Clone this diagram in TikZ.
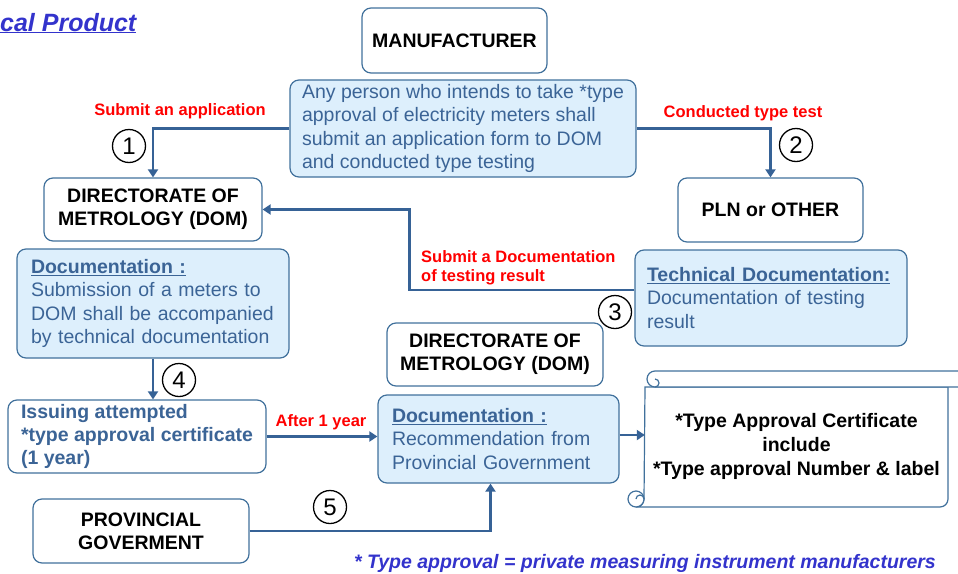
\documentclass[tikz,border=0pt]{standalone}
\usepackage{fontspec}
\setmainfont{Liberation Sans}
\usetikzlibrary{arrows.meta}
\definecolor{boxline}{RGB}{65,113,156}
\definecolor{flowblue}{RGB}{54,98,150}
\definecolor{docfill}{RGB}{221,239,252}
\definecolor{doctext}{RGB}{59,100,150}
\definecolor{titleblue}{RGB}{51,51,204}
\begin{document}
\begin{tikzpicture}[x=1pt, y=-1pt,
  whitebox/.style={draw=boxline, line width=1.2pt, fill=white, rounded corners=9pt, align=center, font=\fontsize{19.5}{23}\selectfont\bfseries},
  docbox/.style={draw=boxline, line width=1.2pt, fill=docfill, rounded corners=9pt, align=left, inner xsep=14pt, inner ysep=2pt, text=doctext, font=\fontsize{19.5}{23.5}\selectfont},
  flow/.style={draw=flowblue, line width=2.6pt, -{Triangle[length=8pt,width=10pt]}},
  redlabel/.style={text=red, font=\fontsize{16.5}{19.5}\selectfont\bfseries, inner sep=0pt},
  stepnum/.style={draw, circle, line width=1.3pt, minimum size=33pt, inner sep=0pt, font=\fontsize{24}{24}\selectfont},
  scrollline/.style={draw=boxline, line width=1.2pt}]
\useasboundingbox (0,0) rectangle (958,573);

\node[font=\fontsize{25}{25}\selectfont\bfseries\itshape, text=titleblue, anchor=base west, inner sep=0pt] (title) at (0,31) {\underline{cal Product}};

\node[whitebox, minimum width=185pt, minimum height=65pt] (mfr) at (454.5,40.5) {MANUFACTURER};
\node[docbox, inner xsep=4pt, minimum width=346pt, minimum height=97pt] (desc) at (463,128.5) {Any person who intends to take *type\\approval of electricity meters shall\\submit an application form to DOM\\and conducted type testing};
\node[whitebox, minimum width=218pt, minimum height=63pt] (dom) at (153,209.5) {DIRECTORATE OF\\METROLOGY (DOM)};
\node[whitebox, minimum width=185pt, minimum height=64pt] (pln) at (770.5,210) {PLN or OTHER};
\node[docbox, text width=248pt, inner xsep=12pt, minimum height=96pt] (tech) at (771,298) {\textbf{\underline{Technical Documentation:}}\\Documentation of testing\\result};
\node[docbox, text width=244pt, minimum height=109pt] (doc1) at (153,303.5) {\textbf{\underline{Documentation :}}\\Submission of a meters to\\DOM shall be accompanied\\by technical documentation};
\node[docbox, fill=white, inner xsep=4pt, minimum width=258pt, minimum height=73pt, font=\fontsize{19.5}{23}\selectfont\bfseries] (issue) at (137,436.5) {Issuing attempted\\{}*type approval certificate\\(1 year)};
\node[whitebox, minimum width=216pt, minimum height=63pt] (dom2) at (495,354.5) {DIRECTORATE OF\\METROLOGY (DOM)};
\node[docbox, text width=213pt, minimum height=88pt] (doc2) at (498.5,439) {\textbf{\underline{Documentation :}}\\Recommendation from\\Provincial Government};
\node[whitebox, minimum width=216pt, minimum height=64pt] (prov) at (141,531) {PROVINCIAL\\GOVERMENT};

\draw[scrollline, fill=white] (645,387) -- (948,387) -- (948,499) arc[start angle=0, end angle=90, radius=8] -- (636,507) arc[start angle=90, end angle=0, radius=8] -- cycle;
\draw[scrollline, fill=white] (636,499) circle[radius=8];
\draw[scrollline] (636,499) arc[start angle=180, end angle=360, radius=4];
\draw[scrollline, fill=white] (655,371) -- (975,371) -- (975,387) -- (655,387) arc[start angle=90, end angle=270, radius=8];
\draw[scrollline] (655,379) arc[start angle=-90, end angle=90, radius=4];
\node[align=center, font=\fontsize{19.5}{24}\selectfont\bfseries, minimum width=303pt, minimum height=120pt] (cert) at (796.5,446) {*Type Approval Certificate\\include\\{}*Type approval Number \& label};

\node[redlabel, anchor=base] (lab1) at (180,115) {Submit an application};
\node[redlabel, anchor=base] (lab2) at (743,117) {Conducted type test};
\node[redlabel, anchor=north west, align=left] (lab3) at (421,250) {Submit a Documentation\\of testing result};
\node[redlabel, anchor=base] (lab4) at (321,426) {After 1 year};

\node[stepnum] (n1) at (129,146) {1};
\node[stepnum] (n2) at (796,145) {2};
\node[stepnum] (n3) at (615,312) {3};
\node[stepnum] (n4) at (179,380) {4};
\node[stepnum] (n5) at (330,507) {5};

\draw[flow] (desc.west) -| (dom.north);
\draw[flow] (desc.east) -| (pln.north);
\draw[flow] ([yshift=8pt]tech.west) -- ++(-225,0) |- (dom.east);
\draw[flow] (doc1.south) -- (doc1.south |- issue.north);
\draw[flow] (issue.east) -- (issue.east -| doc2.west);
\draw[flow] ([yshift=4pt]doc2.east) -- ([yshift=4pt]doc2.east -| cert.west);
\draw[flow] (prov.east) -| ([xshift=-8pt]doc2.south);

\node[font=\fontsize{19.5}{19.5}\selectfont\bfseries\itshape, text=titleblue, anchor=base, inner sep=0pt] (note) at (645,568) {* Type approval = private measuring instrument manufacturers};
\end{tikzpicture}
\end{document}
